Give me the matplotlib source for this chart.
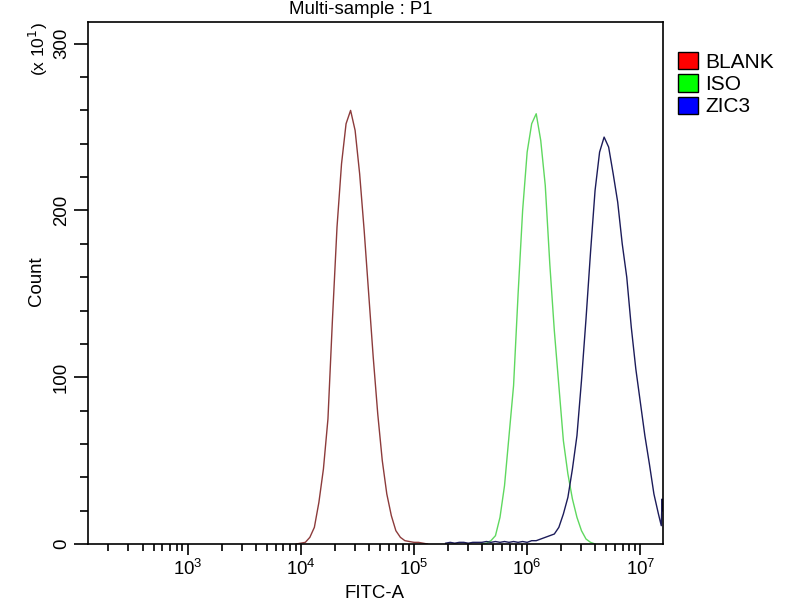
import numpy as np
import matplotlib.pyplot as plt
from matplotlib.patches import Patch
from matplotlib.ticker import LogLocator, MultipleLocator

plt.rcParams['font.family'] = ['Liberation Sans', 'DejaVu Sans']

# histogram channels are given as log10(FITC-A), counts in units of 10
blank_log = [3.96, 4.00, 4.04, 4.08, 4.12, 4.16, 4.20, 4.24, 4.28, 4.32, 4.36, 4.40,
             4.44, 4.48, 4.52, 4.56, 4.60, 4.64, 4.68, 4.72, 4.76, 4.80, 4.84, 4.88,
             4.92, 4.96, 5.00, 5.04, 5.08, 5.12]
blank_cnt = [0, 0.5, 1, 4, 10, 25, 45, 75, 135, 190, 228, 252,
             260, 248, 222, 188, 150, 112, 78, 50, 30, 17, 8, 4,
             2, 1.5, 1, 1, 0.5, 0]

iso_log = [5.60, 5.64, 5.68, 5.72, 5.76, 5.80, 5.84, 5.88, 5.92, 5.96, 6.00, 6.04,
           6.08, 6.12, 6.16, 6.20, 6.24, 6.28, 6.32, 6.36, 6.40, 6.44, 6.48, 6.52,
           6.56, 6.60]
iso_cnt = [0, 0.5, 2, 5, 16, 35, 65, 95, 150, 200, 235, 252,
           258, 242, 215, 168, 128, 95, 62, 42, 27, 16, 8, 3,
           1, 0]

zic3_log = [5.28, 5.32, 5.36, 5.40, 5.44, 5.48, 5.52, 5.56, 5.60, 5.64, 5.68, 5.72,
            5.76, 5.80, 5.84, 5.88, 5.92, 5.96, 6.00, 6.04, 6.08, 6.12, 6.16, 6.20,
            6.24, 6.28, 6.32, 6.36, 6.40, 6.44, 6.48, 6.52, 6.56, 6.60, 6.64, 6.68,
            6.72, 6.76, 6.80, 6.84, 6.88, 6.92, 6.96, 7.00, 7.04, 7.08, 7.12, 7.16,
            7.185, 7.192, 7.196]
zic3_cnt = [0.5, 1, 0.5, 1, 1, 0.5, 1, 1, 1, 1.5, 1, 1.5,
            1, 1.5, 1, 1.5, 1, 1.5, 1, 2, 2, 3, 4, 5,
            6, 10, 18, 28, 45, 65, 98, 135, 175, 212, 235, 244,
            238, 222, 205, 180, 160, 130, 105, 85, 65, 48, 30, 18,
            11, 27, 20]

names = ['BLANK', 'ISO', 'ZIC3']
line_colors = ['#8c3b3b', '#5fd85f', '#1c1c5a']
patch_colors = ['#ff0000', '#00ff00', '#0000ff']

fig = plt.figure(figsize=(8, 6), dpi=100)
ax = fig.add_axes([0.11, 0.0933, 0.719, 0.87])

series = [(blank_log, blank_cnt), (iso_log, iso_cnt), (zic3_log, zic3_cnt)]
for (lg, cnt), c in zip(series, line_colors):
    ax.plot(10 ** np.array(lg), cnt, color=c, lw=1.0)

ax.set_xscale('log')
ax.set_xlim(10 ** 2.12, 10 ** 7.202)
ax.set_ylim(0, 313)
ax.xaxis.set_major_locator(LogLocator(base=10, numticks=10))
ax.xaxis.set_minor_locator(LogLocator(base=10, subs=np.arange(2, 10), numticks=20))
ax.yaxis.set_major_locator(MultipleLocator(100))
ax.yaxis.set_minor_locator(MultipleLocator(20))
ax.tick_params(axis='y', which='major', length=10, width=1.2, labelsize=13.4, pad=3)
ax.tick_params(axis='y', which='minor', length=6, width=1.2)
ax.tick_params(axis='x', which='major', length=8, width=1.2, labelsize=13.4, pad=3)
ax.tick_params(axis='x', which='minor', length=5, width=1.2)
for lbl in ax.get_yticklabels():
    lbl.set_rotation(90)
    lbl.set_va('center')
for sp in ax.spines.values():
    sp.set_linewidth(1.2)

fig.text(375 / 800, 1 - 593 / 600, 'FITC-A', fontsize=13.4, ha='center', va='center')
fig.text(36 / 800, 1 - 281 / 600, 'Count', fontsize=13.4, rotation=90, ha='center', va='center')
fig.text(38 / 800, 1 - 49 / 600, r'(x 10$^1$)', rotation=90, fontsize=12.5, ha='center', va='center')
fig.text(361 / 800, 1 - 9 / 600, 'Multi-sample : P1', fontsize=13.4, ha='center', va='center')

handles = [Patch(facecolor=pc, edgecolor='black', label=n) for pc, n in zip(patch_colors, names)]
fig.legend(handles=handles, loc='upper left', bbox_to_anchor=(678 / 800, 1 - 52 / 600), frameon=False,
           fontsize=15, handlelength=0.95, handleheight=0.9, handletextpad=0.34,
           labelspacing=0.12, borderaxespad=0, borderpad=0)

fig.savefig('out.png', dpi=100)
